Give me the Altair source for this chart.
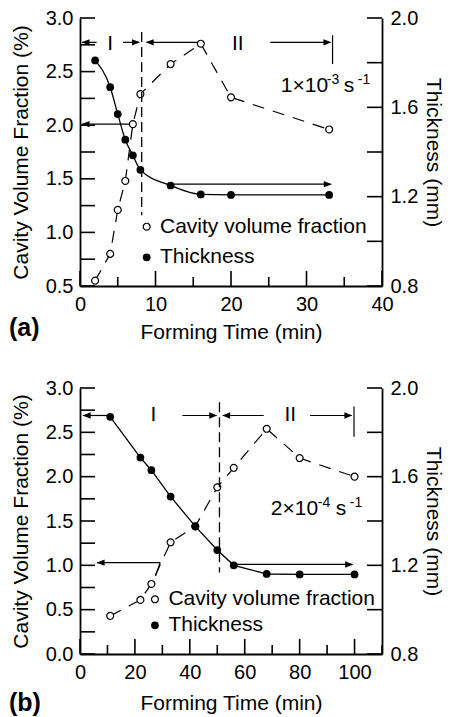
import altair as alt
import pandas as pd

FONT = "Liberation Sans"
TXT = 21
LBL = 20

# ---------------- panel (a): 1x10^-3 s^-1 ----------------
a_time = [2, 4, 5, 6, 7, 8, 12, 16, 20, 33]
a_cavity = [0.55, 0.80, 1.21, 1.48, 2.01, 2.29, 2.57, 2.76, 2.26, 1.96]
a_thickness = [1.81, 1.69, 1.57, 1.455, 1.385, 1.32, 1.25, 1.21, 1.208, 1.208]

a_x_major = [0, 10, 20, 30, 40]
a_x_minor = [5, 15, 25, 35]
a_x_labels = [0, 10, 20, 30, 40]
a_cav_ticks = [0.5, 0.75, 1.0, 1.25, 1.5, 1.75, 2.0, 2.25, 2.5, 2.75, 3.0]
a_cav_labels = [0.5, 1.0, 1.5, 2.0, 2.5, 3.0]
th_ticks = [0.8, 1.0, 1.2, 1.4, 1.6, 1.8, 2.0]
th_labels = [0.8, 1.2, 1.6, 2.0]

# ---------------- panel (b): 2x10^-4 s^-1 ----------------
b_time = [11, 22, 26, 33, 42, 50, 56, 68, 80, 100]
b_cavity = [0.43, 0.61, 0.79, 1.26, 1.44, 1.88, 2.10, 2.54, 2.21, 2.00]
b_thickness = [1.87, 1.686, 1.629, 1.51, 1.376, 1.269, 1.20, 1.161, 1.159, 1.159]

b_x_major = [0, 20, 40, 60, 80, 100]
b_x_minor = [10, 30, 50, 70, 90, 110]
b_x_labels = [0, 20, 40, 60, 80, 100]
b_cav_ticks = [0.0, 0.25, 0.5, 0.75, 1.0, 1.25, 1.5, 1.75, 2.0, 2.25, 2.5, 2.75, 3.0]
b_cav_labels = [0.0, 0.5, 1.0, 1.5, 2.0, 2.5, 3.0]

legend_labels = ["Cavity volume fraction", "Thickness"]

# annotation geometry (data coordinates: time, cavity %)
a_ann = dict(
    segs=[(0.3, 2.773, 2.2, 2.773), (5.7, 2.773, 7.8, 2.773), (8.8, 2.773, 15.6, 2.773),
          (25.2, 2.773, 33.1, 2.773), (33.45, 2.84, 33.45, 2.57),
          (0.3, 2.01, 6.6, 2.01), (11.9, 1.45, 33.2, 1.45)],
    dashed=[(8.17, 2.87, 8.17, 1.16)],
    heads_l=[(0.2, 2.773), (8.7, 2.773), (0.2, 2.01)],
    heads_r=[(7.95, 2.773), (33.3, 2.773), (33.35, 1.45)],
    roman=[(4.0, 2.76, "I"), (20.9, 2.76, "II")],
    legend_mark=[(8.83, 1.053), (8.83, 0.768)],
    legend_text_x=10.6,
    rate=(26.6, 2.31, ["1\u00d710", "-3", " s", "-1"], [0, 46, 63, 77]),
    tag="(a)",
    tag_dy=42,
    xpad=7,
)
b_ann = dict(
    segs=[(1.0, 2.69, 11.2, 2.69), (37.3, 2.69, 49.7, 2.69), (52.1, 2.69, 66.9, 2.69),
          (83.8, 2.69, 98.9, 2.69), (99.8, 2.79, 99.8, 2.45),
          (6.2, 1.03, 29.2, 1.03), (29.2, 1.03, 27.5, 0.88), (56.0, 1.01, 99.3, 1.01)],
    dashed=[(50.8, 2.84, 50.8, 0.92)],
    heads_l=[(0.98, 2.69), (51.8, 2.69), (6.06, 1.03)],
    heads_r=[(50.0, 2.69), (99.2, 2.69), (99.5, 1.01)],
    roman=[(26.7, 2.69, "I"), (76.6, 2.69, "II")],
    legend_mark=[(27.3, 0.617), (27.3, 0.324)],
    legend_text_x=32.2,
    rate=(69.5, 1.57, ["2\u00d710", "-4", " s", "-1"], [0, 47, 65, 79]),
    tag="(b)",
    tag_dy=49,
    xpad=10,
)

HEAD_R = "M0,0L-2,-0.8L-2,0.8Z"
HEAD_L = "M0,0L2,-0.8L2,0.8Z"


def panel(time, cav, thick, W, H, xdom, xmajor, xminor, xlabels, cdom, cticks, clabels,
          tdom, tticks, tlabels, ann, interp):
    xs = alt.Scale(domain=xdom, nice=False, zero=False)
    cs = alt.Scale(domain=cdom, nice=False, zero=False)
    ts = alt.Scale(domain=tdom, nice=False, zero=False)
    xaxis = alt.Axis(title="Forming Time (min)", values=xlabels, format="d",
                     labelPadding=8, titlePadding=ann["xpad"], labelFlush=False,
                     titleFontWeight="normal")
    caxis = alt.Axis(title="Cavity Volume Fraction (%)", values=clabels, format=".1f",
                     labelPadding=7, titlePadding=14, orient="left", labelFlush=False,
                     titleFontWeight="normal")
    taxis = alt.Axis(title="Thickness (mm)", values=tlabels, format=".1f",
                     labelPadding=8, titlePadding=5, orient="right", labelFlush=False,
                     titleFontWeight="normal")
    X = alt.X("x:Q", scale=xs, axis=xaxis)
    Yc = alt.Y("y:Q", scale=cs, axis=caxis)
    Yt = alt.Y("y:Q", scale=ts, axis=taxis)

    dcav = pd.DataFrame({"x": time, "y": cav})
    dth = pd.DataFrame({"x": time, "y": thick})

    cav_line = alt.Chart(dcav).mark_line(color="black", strokeWidth=1.2,
                                         strokeDash=[12, 9]).encode(x=X, y=Yc)
    cav_pts = alt.Chart(dcav).mark_point(shape="circle", filled=True, fill="white",
                                         stroke="black", strokeWidth=1.2, size=48,
                                         opacity=1).encode(x=X, y=Yc)

    lt = alt.Chart(pd.DataFrame({"y": cticks})).mark_rule(
        color="black", strokeWidth=1.6).encode(y=Yc, x=alt.value(0), x2=alt.value(15))
    btM = alt.Chart(pd.DataFrame({"x": xmajor})).mark_rule(
        color="black", strokeWidth=1.6).encode(x=X, y=alt.value(H), y2=alt.value(H - 15))
    btm = alt.Chart(pd.DataFrame({"x": xminor})).mark_rule(
        color="black", strokeWidth=1.6).encode(x=X, y=alt.value(H), y2=alt.value(H - 9))

    sg = pd.DataFrame(ann["segs"], columns=["x", "y", "x2", "y2"])
    segs = alt.Chart(sg).mark_rule(color="black", strokeWidth=1.2).encode(
        x=X, y=Yc, x2="x2:Q", y2="y2:Q")
    dsh = pd.DataFrame(ann["dashed"], columns=["x", "y", "x2", "y2"])
    dashed = alt.Chart(dsh).mark_rule(color="black", strokeWidth=1.3,
                                      strokeDash=[10, 5]).encode(
        x=X, y=Yc, x2="x2:Q", y2="y2:Q")
    hl = alt.Chart(pd.DataFrame(ann["heads_l"], columns=["x", "y"])).mark_point(
        shape=HEAD_L, filled=True, color="black", size=64, opacity=1,
        strokeWidth=0).encode(x=X, y=Yc)
    hr = alt.Chart(pd.DataFrame(ann["heads_r"], columns=["x", "y"])).mark_point(
        shape=HEAD_R, filled=True, color="black", size=64, opacity=1,
        strokeWidth=0).encode(x=X, y=Yc)

    roman = alt.Chart(pd.DataFrame(ann["roman"], columns=["x", "y", "t"])).mark_text(
        font=FONT, fontSize=TXT, align="center", baseline="middle", color="black").encode(
        x=X, y=Yc, text="t:N")

    lm = ann["legend_mark"]
    lg_open = alt.Chart(pd.DataFrame({"x": [lm[0][0]], "y": [lm[0][1]]})).mark_point(
        shape="circle", filled=True, fill="white", stroke="black", strokeWidth=1.2,
        size=48, opacity=1).encode(x=X, y=Yc)
    lg_fill = alt.Chart(pd.DataFrame({"x": [lm[1][0]], "y": [lm[1][1]]})).mark_point(
        shape="circle", filled=True, color="black", size=60, opacity=1).encode(x=X, y=Yc)
    lg_text = alt.Chart(pd.DataFrame({"x": [ann["legend_text_x"]] * 2,
                                      "y": [lm[0][1], lm[1][1]],
                                      "t": legend_labels})).mark_text(
        font=FONT, fontSize=TXT, align="left", baseline="middle", color="black").encode(
        x=X, y=Yc, text="t:N")

    rx, ry, parts, offs = ann["rate"]
    rate_layers = []
    for i, (p, o) in enumerate(zip(parts, offs)):
        sup = i % 2 == 1
        rate_layers.append(
            alt.Chart(pd.DataFrame({"x": [rx], "y": [ry], "t": [p]})).mark_text(
                font=FONT, fontSize=14 if sup else TXT, align="left",
                baseline="alphabetic", dx=o, dy=-8 if sup else 0, color="black").encode(
                x=X, y=Yc, text="t:N"))

    tag = alt.Chart(pd.DataFrame({"t": [ann["tag"]]})).mark_text(
        font=FONT, fontSize=25, fontWeight="bold", align="left", baseline="middle",
        color="black").encode(x=alt.value(-71), y=alt.value(H + ann["tag_dy"]), text="t:N")

    cav_group = alt.layer(cav_line, cav_pts, lt, btM, btm, segs, dashed, hl, hr, roman,
                          lg_open, lg_fill, lg_text, *rate_layers, tag)

    th_line = alt.Chart(dth).mark_line(color="black", strokeWidth=1.3,
                                       interpolate=interp).encode(x=X, y=Yt)
    th_pts = alt.Chart(dth).mark_point(shape="circle", filled=True, color="black",
                                       size=60, opacity=1).encode(x=X, y=Yt)
    rt = alt.Chart(pd.DataFrame({"y": tticks})).mark_rule(
        color="black", strokeWidth=1.6).encode(y=Yt, x=alt.value(W - 15), x2=alt.value(W))
    th_group = alt.layer(th_line, th_pts, rt)

    return alt.layer(cav_group, th_group).resolve_scale(y="independent").properties(
        width=W, height=H)


top = panel(a_time, a_cavity, a_thickness, 302, 268, [0, 40], a_x_major, a_x_minor,
            a_x_labels, [0.5, 3.0], a_cav_ticks, a_cav_labels, [0.8, 2.0], th_ticks,
            th_labels, a_ann, "monotone")
bottom = panel(b_time, b_cavity, b_thickness, 302, 266, [0, 110], b_x_major, b_x_minor,
               b_x_labels, [0.0, 3.0], b_cav_ticks, b_cav_labels, [0.8, 2.0], th_ticks,
               th_labels, b_ann, "linear")

chart = alt.vconcat(top, bottom, spacing=36).properties(
    padding={"left": 9, "top": 8, "right": 6, "bottom": 0}
).configure_view(stroke=None).configure_axis(
    labelFont=FONT, titleFont=FONT, labelFontSize=LBL, titleFontSize=TXT,
    labelColor="black", titleColor="black", titleFontWeight="normal",
    domainColor="black", domainWidth=1.8, grid=False, ticks=False, tickSize=0,
    labelOverlap=False
).configure_text(font=FONT)

chart.save("out.html", embed_options={"renderer": "svg", "actions": False})
